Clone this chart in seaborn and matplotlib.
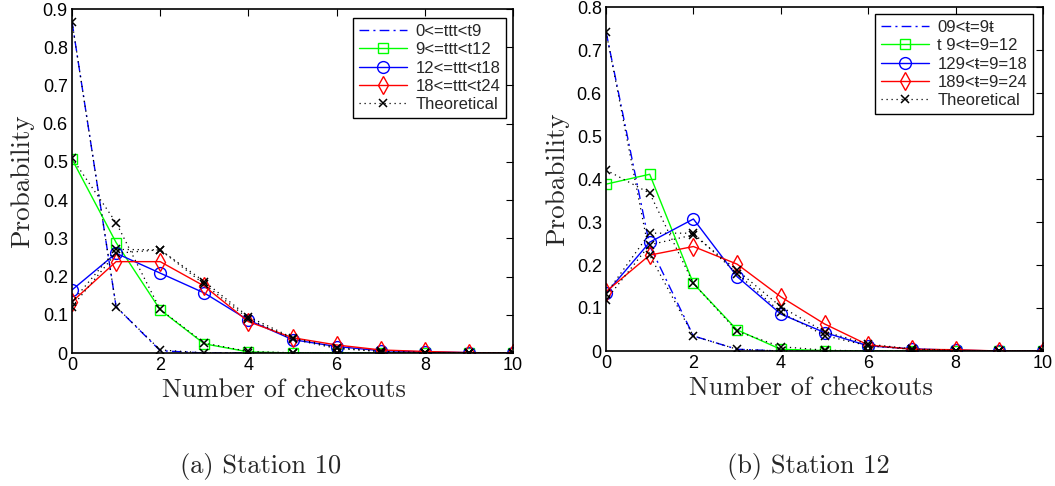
import numpy as np
import pandas as pd
import seaborn as sns
import matplotlib
matplotlib.use("Agg")
import matplotlib.pyplot as plt

# ---------------- data ----------------
checkouts = [0, 1, 2, 3, 4, 5, 6, 7, 8, 9, 10]

labels_a = ["0<=ttt<t9", "9<=ttt<t12", "12<=ttt<t18", "18<=ttt<t24"]
labels_b = ["09<ŧ=9ŧ", "t 9<ŧ=9=12", "129<ŧ=9=18", "189<ŧ=9=24"]
theory_label = "Theoretical"

# Station 10 empirical
s10_p1 = [0.867, 0.121, 0.006, 0.0, 0.0, 0.0, 0.0, 0.0, 0.0, 0.0, 0.0]
s10_p2 = [0.507, 0.289, 0.113, 0.024, 0.003, 0.0, 0.0, 0.0, 0.0, 0.0, 0.0]
s10_p3 = [0.165, 0.261, 0.209, 0.157, 0.086, 0.035, 0.017, 0.006, 0.003, 0.001, 0.0]
s10_p4 = [0.134, 0.239, 0.239, 0.175, 0.082, 0.040, 0.021, 0.008, 0.004, 0.001, 0.0]
# Station 10 theoretical
s10_t1 = [0.867, 0.121, 0.008, 0.0004, 0.0, 0.0, 0.0, 0.0, 0.0, 0.0, 0.0]
s10_t2 = [0.510, 0.341, 0.114, 0.026, 0.004, 0.0006, 0.0, 0.0, 0.0, 0.0, 0.0]
s10_t3 = [0.134, 0.271, 0.270, 0.180, 0.090, 0.036, 0.012, 0.0035, 0.001, 0.0, 0.0]
s10_t4 = [0.121, 0.261, 0.270, 0.187, 0.095, 0.040, 0.014, 0.004, 0.001, 0.0, 0.0]

# Station 12 empirical
s12_p1 = [0.743, 0.245, 0.035, 0.004, 0.0, 0.0, 0.0, 0.0, 0.0, 0.0, 0.0]
s12_p2 = [0.388, 0.411, 0.157, 0.049, 0.004, 0.001, 0.0, 0.0, 0.0, 0.0, 0.0]
s12_p3 = [0.134, 0.253, 0.307, 0.173, 0.086, 0.043, 0.012, 0.005, 0.002, 0.0, 0.0]
s12_p4 = [0.138, 0.223, 0.243, 0.202, 0.126, 0.063, 0.014, 0.004, 0.003, 0.0, 0.0]
# Station 12 theoretical
s12_t1 = [0.743, 0.223, 0.035, 0.004, 0.0, 0.0, 0.0, 0.0, 0.0, 0.0, 0.0]
s12_t2 = [0.421, 0.367, 0.157, 0.046, 0.010, 0.002, 0.0, 0.0, 0.0, 0.0, 0.0]
s12_t3 = [0.133, 0.274, 0.274, 0.180, 0.090, 0.036, 0.012, 0.004, 0.001, 0.0, 0.0]
s12_t4 = [0.119, 0.247, 0.270, 0.188, 0.103, 0.045, 0.016, 0.005, 0.001, 0.0, 0.0]

captions = ["(a) Station 10", "(b) Station 12"]
xlabel = "Number of checkouts"
ylabel = "Probability"

# ---------------- style ----------------
sns.set_style("white")
plt.rcParams["font.family"] = ["Liberation Sans", "DejaVu Sans"]
plt.rcParams["xtick.direction"] = "in"
plt.rcParams["ytick.direction"] = "in"

fig = plt.figure(figsize=(10.55, 4.86), dpi=100)
ax_a = fig.add_axes([72 / 1055, (486 - 353) / 486, (513 - 72) / 1055, (353 - 9) / 486])
ax_b = fig.add_axes([606 / 1055, (486 - 351) / 486, (1043 - 606) / 1055, (351 - 7) / 486])

styles = [
    dict(color=(0, 0, 1), linestyle="-.", marker=None),
    dict(color=(0, 1, 0), linestyle="-", marker="s", markersize=7),
    dict(color=(0, 0, 1), linestyle="-", marker="o", markersize=8.5),
    dict(color=(1, 0, 0), linestyle="-", marker="d", markersize=9),
]


def draw(ax, emp, theo, labels, ymax, leg_anchor, xlab_x):
    for series, lab, st in zip(emp, labels, styles):
        kw = dict(st)
        if kw["marker"] is None:
            sns.lineplot(x=checkouts, y=series, ax=ax, label=lab, linewidth=1.0,
                         color=kw["color"], linestyle=kw["linestyle"], dashes=False)
            ax.lines[-1].set_dashes([7, 3, 1.5, 3])
        else:
            sns.lineplot(x=checkouts, y=series, ax=ax, label=lab, linewidth=1.0,
                         color=kw["color"], linestyle=kw["linestyle"],
                         marker=kw["marker"], markersize=kw["markersize"],
                         markerfacecolor="none", markeredgecolor=kw["color"],
                         markeredgewidth=1.0)
    for i, series in enumerate(theo):
        sns.lineplot(x=checkouts, y=series, ax=ax,
                     label=theory_label if i == 0 else None,
                     color="black", linestyle=(0, (1, 3)), linewidth=0.9,
                     marker="x", markersize=6, markeredgewidth=1.1,
                     markeredgecolor="black")
    ax.set_xlim(0, 10)
    ax.set_ylim(0, ymax)
    ax.set_xticks(range(0, 11, 2))
    yt = np.round(np.arange(0, ymax + 0.001, 0.1), 1)
    ax.set_yticks(yt)
    ax.set_yticklabels([("%g" % v) for v in yt])
    ax.tick_params(axis="both", which="both", top=True, right=True, length=5,
                   width=0.8, labelsize=13, pad=3, colors="black")
    for sp in ax.spines.values():
        sp.set_visible(True)
        sp.set_color("black")
        sp.set_linewidth(1.2)
    ax.set_xlabel(xlabel, family="cmr10", fontsize=19)
    ax.set_ylabel(ylabel, family="cmr10", fontsize=19.5)
    ax.xaxis.set_label_coords(xlab_x, -0.074, transform=ax.transAxes)
    ax.xaxis.label.set_va("top")
    ax.yaxis.set_label_coords(-0.085, 0.5, transform=ax.transAxes)
    leg = ax.legend(loc="upper right", bbox_to_anchor=leg_anchor, fontsize=12,
                    frameon=True, fancybox=False, framealpha=1, edgecolor="black",
                    handlelength=2.9, labelspacing=0.2, borderpad=0.35,
                    handletextpad=0.5, borderaxespad=0)
    leg.get_frame().set_linewidth(1.0)


draw(ax_a, [s10_p1, s10_p2, s10_p3, s10_p4], [s10_t1, s10_t2, s10_t3, s10_t4],
     labels_a, 0.9, ((506 - 72) / 441, (353 - 18) / 344), 0.48)
draw(ax_b, [s12_p1, s12_p2, s12_p3, s12_p4], [s12_t1, s12_t2, s12_t3, s12_t4],
     labels_b, 0.8, ((1033 - 606) / 437, (351 - 14) / 344), 0.47)

fig.text(261 / 1055, (486 - 466) / 486, captions[0], family="cmr10", fontsize=19,
         ha="center", va="center")
fig.text(808 / 1055, (486 - 466) / 486, captions[1], family="cmr10", fontsize=19,
         ha="center", va="center")

fig.savefig("out.png", dpi=100)
